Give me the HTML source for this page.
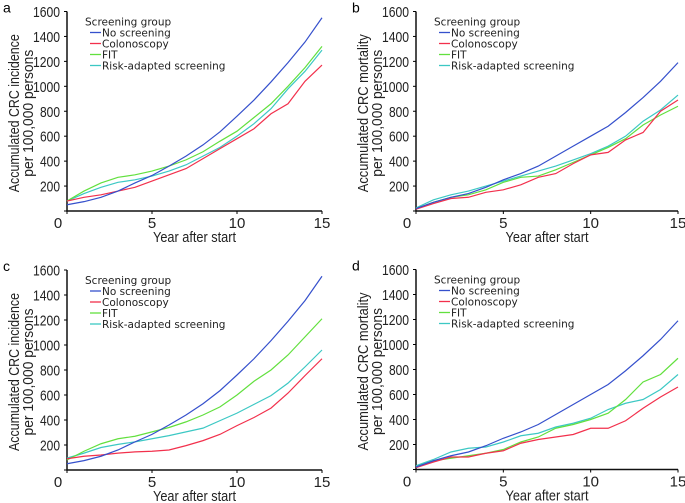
<!DOCTYPE html>
<html><head><meta charset="utf-8"><style>
body{margin:0;background:#fff;}
svg{display:block;font-family:"DejaVu Sans","Liberation Sans",sans-serif;}
</style></head><body>
<svg id="s" width="685" height="503" xmlns="http://www.w3.org/2000/svg"></svg>
<script>
const C={n:"#3550cc",c:"#f2304c",f:"#62e03e",r:"#3cc8c4"};
const ns=[50,75,110,160,225,285,360,440,530,635,760,890,1035,1190,1355,1550];
const nm=[20,70,110,140,190,250,300,360,440,520,600,680,790,910,1040,1190];
const P=[
{L:"a",x0:67,x1:322,y0:211,y1:11.5,t:"Accumulated CRC incidence",d:{n:ns,
c:[80,110,130,160,190,240,290,340,420,500,580,660,780,860,1040,1170],
f:[80,160,225,270,290,320,360,410,475,560,640,750,860,1000,1150,1320],
r:[80,140,190,230,250,280,320,370,440,510,600,700,820,980,1120,1290]}},
{L:"b",x0:416,x1:678,y0:211,y1:11.5,t:"Accumulated CRC mortality",d:{n:nm,
c:[15,60,100,110,150,170,210,270,300,380,450,470,570,630,800,890],
f:[20,70,110,130,170,230,270,280,330,390,450,510,580,690,770,840],
r:[25,90,130,160,200,240,280,320,360,410,460,520,600,720,810,930]}},
{L:"c",x0:67,x1:322,y0:470,y1:270,t:"Accumulated CRC incidence",d:{n:ns,
c:[90,110,120,135,145,150,160,195,235,285,355,420,495,615,755,890],
f:[80,150,210,250,270,305,340,385,440,505,600,710,800,920,1065,1210],
r:[95,135,180,205,225,250,275,305,335,395,455,525,595,695,825,960]}},
{L:"d",x0:416,x1:678,y0:469.5,y1:269.5,t:"Accumulated CRC mortality",d:{n:nm,
c:[15,60,100,100,130,150,210,240,260,280,330,330,390,490,580,660],
f:[20,70,90,110,130,160,220,260,330,360,400,450,560,700,760,890],
r:[30,80,140,170,180,220,270,290,340,370,410,480,530,560,640,760]}}];
const LS='font-family="Liberation Sans" fill="#222" lengthAdjust="spacingAndGlyphs"';
let h="";
for(const p of P){
 const X=v=>p.x0+(p.x1-p.x0)*v/15, Y=v=>p.y0+(p.y1-p.y0)*v/1600;
 h+=`<text x="${p.x0-64}" y="${p.y1+1}" font-size="14" font-family="Liberation Sans">${p.L}</text>`;
 h+=`<path d="M${p.x0} ${p.y1}V${p.y0}H${p.x1}" stroke="#111" stroke-width="1.5" fill="none"/>`;
 for(let v=0;v<=1600;v+=200){h+=`<line x1="${p.x0-3}" x2="${p.x0}" y1="${Y(v)}" y2="${Y(v)}" stroke="#000"/>`;
  if(v>0)h+=`<text x="${p.x0-7}" y="${Y(v)+5.5}" font-size="15" text-anchor="end" ${LS} textLength="${v>=1000?27:20}">${v}</text>`;}
 for(let v=0;v<=15;v+=5){h+=`<line x1="${X(v)}" x2="${X(v)}" y1="${p.y0}" y2="${p.y0+3}" stroke="#000"/>`;
  h+=`<text x="${v==0?p.x0-9:X(v)}" y="${p.y0+17}" font-size="15" text-anchor="middle" ${LS}>${v}</text>`;}
 h+=`<text x="${(p.x0+p.x1)/2}" y="${p.y0+31}" font-size="15" text-anchor="middle" ${LS} textLength="83">Year after start</text>`;
 const cy=(p.y0+p.y1)/2;
 h+=`<text transform="translate(${p.x0-48},${cy+2}) rotate(-90)" font-size="15" text-anchor="middle" ${LS} textLength="158">${p.t}</text>`;
 h+=`<text transform="translate(${p.x0-34},${cy+2}) rotate(-90)" font-size="15" text-anchor="middle" ${LS} textLength="127">per 100,000 persons</text>`;
 for(const k of ["r","f","c","n"]){h+=`<polyline fill="none" stroke="${C[k]}" stroke-width="1.2" points="${p.d[k].map((v,i)=>X(i)+","+Y(v)).join(" ")}"/>`;}
 const lx=p.x0+18, ly=p.y1+10;
 h+=`<text x="${lx}" y="${ly+4}" font-size="10.5" fill="#222">Screening group</text>`;
 [["n","No screening"],["c","Colonoscopy"],["f","FIT"],["r","Risk-adapted screening"]].forEach((e,i)=>{
  const y=ly+11*(i+1);
  h+=`<line x1="${lx+5}" x2="${lx+16}" y1="${y}" y2="${y}" stroke="${C[e[0]]}" stroke-width="1.3"/>`;
  h+=`<text x="${lx+17}" y="${y+4}" font-size="10.5" fill="#222">${e[1]}</text>`;});
}
document.getElementById("s").innerHTML=h;
</script>
</body></html>
